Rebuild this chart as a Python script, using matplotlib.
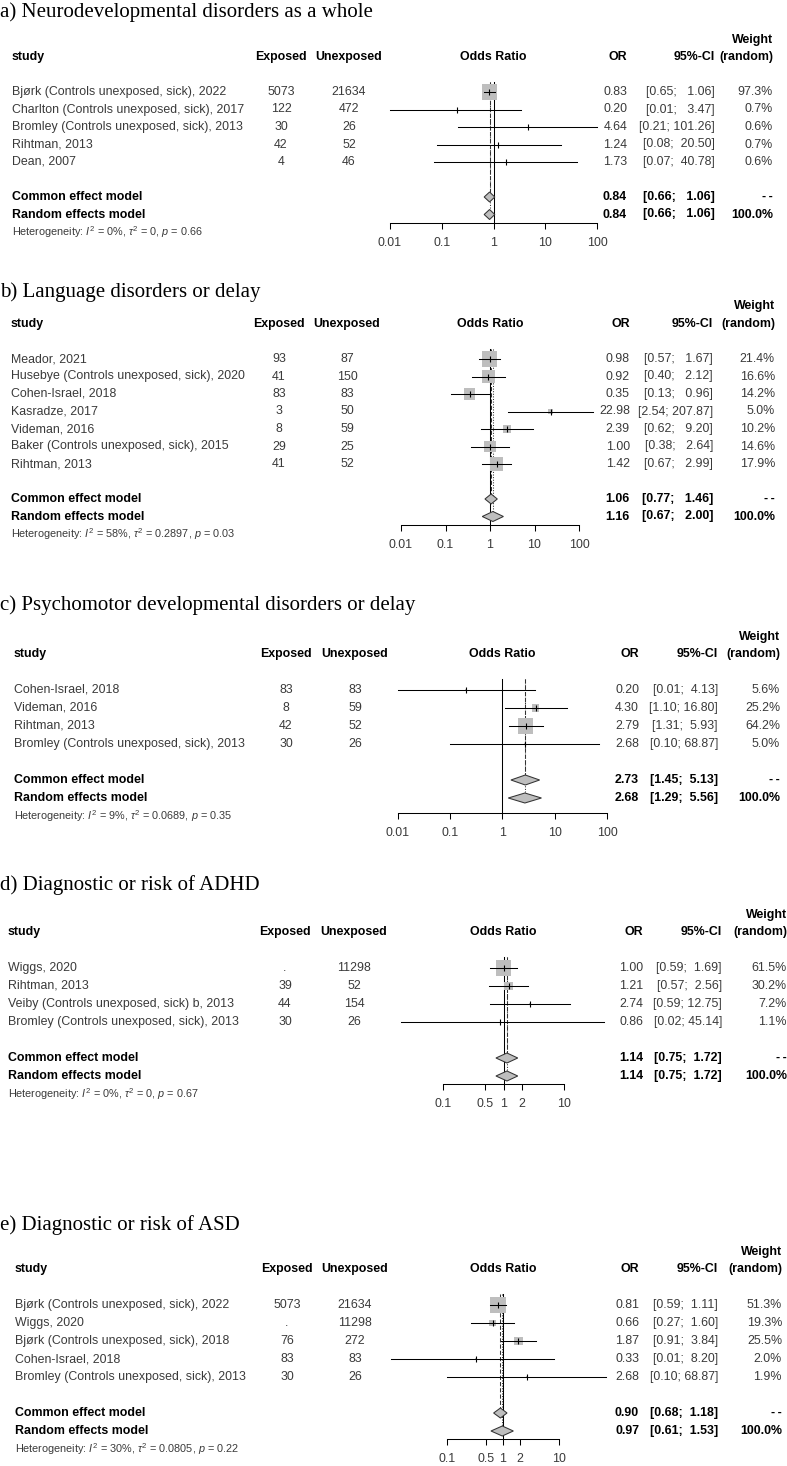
import numpy as np
import matplotlib
matplotlib.use("Agg")
import matplotlib.pyplot as plt
from matplotlib.patches import Polygon
from matplotlib.ticker import NullLocator

plt.rcParams['font.family'] = ['Liberation Sans', 'DejaVu Sans']
plt.rcParams['mathtext.fontset'] = 'custom'
plt.rcParams['mathtext.rm'] = 'Liberation Sans'
plt.rcParams['mathtext.it'] = 'Liberation Sans:italic'
plt.rcParams['mathtext.bf'] = 'Liberation Sans:bold'

# ---- data -------------------------------------------------------------
titles = ["a) Neurodevelopmental disorders as a whole",
          "b) Language disorders or delay",
          "c) Psychomotor developmental disorders or delay",
          "d) Diagnostic or risk of ADHD",
          "e) Diagnostic or risk of ASD"]

studies_a = ["Bjørk (Controls unexposed, sick), 2022", "Charlton (Controls unexposed, sick), 2017",
             "Bromley (Controls unexposed, sick), 2013", "Rihtman, 2013", "Dean, 2007"]
exposed_a = ["5073", "122", "30", "42", "4"]
unexposed_a = ["21634", "472", "26", "52", "46"]
or_a = [0.83, 0.20, 4.64, 1.24, 1.73]
lo_a = [0.65, 0.01, 0.21, 0.08, 0.07]
hi_a = [1.06, 3.47, 101.26, 20.50, 40.78]
w_a = [97.3, 0.7, 0.6, 0.7, 0.6]
common_a = [0.84, 0.66, 1.06]
random_a = [0.84, 0.66, 1.06]
het_a = ["0%", "0", "0.66"]

studies_b = ["Meador, 2021", "Husebye (Controls unexposed, sick), 2020", "Cohen-Israel, 2018",
             "Kasradze, 2017", "Videman, 2016", "Baker (Controls unexposed, sick), 2015", "Rihtman, 2013"]
exposed_b = ["93", "41", "83", "3", "8", "29", "41"]
unexposed_b = ["87", "150", "83", "50", "59", "25", "52"]
or_b = [0.98, 0.92, 0.35, 22.98, 2.39, 1.00, 1.42]
lo_b = [0.57, 0.40, 0.13, 2.54, 0.62, 0.38, 0.67]
hi_b = [1.67, 2.12, 0.96, 207.87, 9.20, 2.64, 2.99]
w_b = [21.4, 16.6, 14.2, 5.0, 10.2, 14.6, 17.9]
common_b = [1.06, 0.77, 1.46]
random_b = [1.16, 0.67, 2.00]
het_b = ["58%", "0.2897", "0.03"]

studies_c = ["Cohen-Israel, 2018", "Videman, 2016", "Rihtman, 2013",
             "Bromley (Controls unexposed, sick), 2013"]
exposed_c = ["83", "8", "42", "30"]
unexposed_c = ["83", "59", "52", "26"]
or_c = [0.20, 4.30, 2.79, 2.68]
lo_c = [0.01, 1.10, 1.31, 0.10]
hi_c = [4.13, 16.80, 5.93, 68.87]
w_c = [5.6, 25.2, 64.2, 5.0]
common_c = [2.73, 1.45, 5.13]
random_c = [2.68, 1.29, 5.56]
het_c = ["9%", "0.0689", "0.35"]

studies_d = ["Wiggs, 2020", "Rihtman, 2013", "Veiby (Controls unexposed, sick) b, 2013",
             "Bromley (Controls unexposed, sick), 2013"]
exposed_d = [".", "39", "44", "30"]
unexposed_d = ["11298", "52", "154", "26"]
or_d = [1.00, 1.21, 2.74, 0.86]
lo_d = [0.59, 0.57, 0.59, 0.02]
hi_d = [1.69, 2.56, 12.75, 45.14]
w_d = [61.5, 30.2, 7.2, 1.1]
common_d = [1.14, 0.75, 1.72]
random_d = [1.14, 0.75, 1.72]
het_d = ["0%", "0", "0.67"]

studies_e = ["Bjørk (Controls unexposed, sick), 2022", "Wiggs, 2020",
             "Bjørk (Controls unexposed, sick), 2018", "Cohen-Israel, 2018",
             "Bromley (Controls unexposed, sick), 2013"]
exposed_e = ["5073", ".", "76", "83", "30"]
unexposed_e = ["21634", "11298", "272", "83", "26"]
or_e = [0.81, 0.66, 1.87, 0.33, 2.68]
lo_e = [0.59, 0.27, 0.91, 0.01, 0.10]
hi_e = [1.11, 1.60, 3.84, 8.20, 68.87]
w_e = [51.3, 19.3, 25.5, 2.0, 1.9]
common_e = [0.90, 0.68, 1.18]
random_e = [0.97, 0.61, 1.53]
het_e = ["30%", "0.0805", "0.22"]

ticks_wide = [0.01, 0.1, 1, 10, 100]
ticklabels_wide = ["0.01", "0.1", "1", "10", "100"]
ticks_narrow = [0.1, 0.5, 1, 2, 10]
ticklabels_narrow = ["0.1", "0.5", "1", "2", "10"]

panels = [
    (studies_a, exposed_a, unexposed_a, or_a, lo_a, hi_a, w_a, common_a, random_a, het_a, ticks_wide, ticklabels_wide),
    (studies_b, exposed_b, unexposed_b, or_b, lo_b, hi_b, w_b, common_b, random_b, het_b, ticks_wide, ticklabels_wide),
    (studies_c, exposed_c, unexposed_c, or_c, lo_c, hi_c, w_c, common_c, random_c, het_c, ticks_wide, ticklabels_wide),
    (studies_d, exposed_d, unexposed_d, or_d, lo_d, hi_d, w_d, common_d, random_d, het_d, ticks_narrow, ticklabels_narrow),
    (studies_e, exposed_e, unexposed_e, or_e, lo_e, hi_e, w_e, common_e, random_e, het_e, ticks_narrow, ticklabels_narrow),
]

# ---- layout (pixels) --------------------------------------------------
# title_y, row0_y, step, axis_y, study_x, exp_x, unexp_x, or_r, ci_r, w_r, axis_left, axis_right
layout = [
    (12, 92, 17.5, 223, 12, 281, 349, 627, 715, 773, 390, 597),
    (292, 359, 17.5, 525, 11, 279, 347, 630, 713, 775, 401, 579),
    (605, 690, 18.0, 813, 14, 286, 355, 639, 718, 780, 398, 607),
    (885, 968, 18.0, 1084, 8, 285, 354, 643, 722, 787, 443, 564),
    (1225, 1305, 18.0, 1439, 15, 287, 355, 639, 718, 782, 447, 559),
]

W, H = 787, 1466
fig = plt.figure(figsize=(W / 100, H / 100), dpi=100)


def fx(x):
    return x / W


def fy(y):
    return 1 - y / H


FS = 8.9
GREY_TXT = "#3a3a3a"
BOX = "#BEBEBE"


def txt(x, y, s, ha="left", bold=False, color=None, size=FS, **kw):
    fig.text(fx(x), fy(y), s, ha=ha, va="center", size=size,
             weight="bold" if bold else "normal",
             color=color or ("black" if bold else GREY_TXT), **kw)


def ci_strings(los, his):
    ls = ["%.2f" % v for v in los]
    hs = ["%.2f" % v for v in his]
    lw = max(len(s) for s in ls)
    uw = max(len(s) for s in hs)
    return ["[%s; %s]" % (l.rjust(lw), h.rjust(uw)) for l, h in zip(ls, hs)]


for k, (pan, lay) in enumerate(zip(panels, layout)):
    (studies, exp, unexp, ors, los, his, ws, com, ran, het, ticks, ticklabels) = pan
    (title_y, row0, step, axis_y, sx, ex, ux, orr, cir, wr, axl, axr) = lay
    n = len(studies)
    rows_y = [row0 + i * step for i in range(n)]
    header_y = row0 - 2 * step
    common_y = row0 + (n + 1) * step
    random_y = common_y + step
    het_y = random_y + step

    fig.text(fx(0), fy(title_y), titles[k], ha="left", va="center", size=15,
             family=["Liberation Serif", "DejaVu Serif"], color="black")

    # header
    txt(sx, header_y, "study", bold=True)
    txt(ex, header_y, "Exposed", ha="center", bold=True)
    txt(ux, header_y, "Unexposed", ha="center", bold=True)
    txt((axl + axr) / 2, header_y, "Odds Ratio", ha="center", bold=True)
    txt(orr, header_y, "OR", ha="right", bold=True)
    txt(cir, header_y, "95%-CI", ha="right", bold=True)
    txt(wr, header_y - 17.5, "Weight", ha="right", bold=True)
    txt(wr, header_y, "(random)", ha="right", bold=True)

    cis = ci_strings(los + [com[1], ran[1]], his + [com[2], ran[2]])
    for i in range(n):
        y = rows_y[i]
        txt(sx, y, studies[i])
        txt(ex, y, exp[i], ha="center")
        txt(ux, y, unexp[i], ha="center")
        txt(orr, y, "%.2f" % ors[i], ha="right")
        txt(cir, y, cis[i], ha="right")
        txt(wr, y, "%.1f%%" % ws[i], ha="right")

    txt(sx, common_y, "Common effect model", bold=True)
    txt(orr, common_y, "%.2f" % com[0], ha="right", bold=True)
    txt(cir, common_y, cis[n], ha="right", bold=True)
    txt(wr, common_y, "-\u2009-", ha="right", bold=True)
    txt(sx, random_y, "Random effects model", bold=True)
    txt(orr, random_y, "%.2f" % ran[0], ha="right", bold=True)
    txt(cir, random_y, cis[n + 1], ha="right", bold=True)
    txt(wr, random_y, "100.0%", ha="right", bold=True)
    txt(sx, het_y, r"Heterogeneity: $I^2$ = %s, $\tau^2$ = %s, $p$ = %s" % tuple(het),
        size=7.8)

    # forest axes: y data in pixel units
    top = header_y
    ax = fig.add_axes([fx(axl), fy(axis_y), (axr - axl) / W, (axis_y - top) / H])
    ax.patch.set_alpha(0)
    ax.set_xscale("log")
    ax.set_xlim(ticks[0], ticks[-1])
    ax.set_ylim(axis_y, top)
    for s in ["top", "left", "right"]:
        ax.spines[s].set_visible(False)
    ax.spines["bottom"].set_linewidth(0.75)
    ax.set_yticks([])
    ax.set_xticks(ticks)
    ax.set_xticklabels(ticklabels)
    ax.xaxis.set_minor_locator(NullLocator())
    ax.tick_params(axis="x", length=4.5, width=0.75, pad=5.5, labelsize=FS,
                   labelcolor=GREY_TXT)

    line_top = row0 - 0.6 * step
    ax.plot([1, 1], [line_top, axis_y], color="black", lw=0.75, clip_on=False, zorder=1)
    ax.plot([com[0]] * 2, [line_top, common_y], color="#333333", lw=0.75, ls=(0, (4, 2)),
            clip_on=False, zorder=1)
    ax.plot([ran[0]] * 2, [line_top, random_y], color="#333333", lw=0.75, ls=(0, (1, 1.5)),
            clip_on=False, zorder=1)

    wmax = max(ws)
    for i in range(n):
        y = rows_y[i]
        side = 11.0 * (ws[i] / wmax) ** 0.8
        ax.scatter([ors[i]], [y], marker="s", s=side ** 2, color=BOX, edgecolors="none",
                   zorder=2, clip_on=False)
        ax.plot([los[i], his[i]], [y, y], color="black", lw=0.75, clip_on=False, zorder=3)
        ax.plot([ors[i]], [y], marker="|", ms=4, mew=0.8, color="black", clip_on=False, zorder=4)

    h = 5
    for est, yy in [(com, common_y), (ran, random_y)]:
        poly = Polygon([(est[1], yy), (est[0], yy - h), (est[2], yy), (est[0], yy + h)],
                       closed=True, facecolor=BOX, edgecolor="#333333", lw=0.75,
                       zorder=3, clip_on=False)
        ax.add_patch(poly)

fig.savefig("out.png", dpi=100)
